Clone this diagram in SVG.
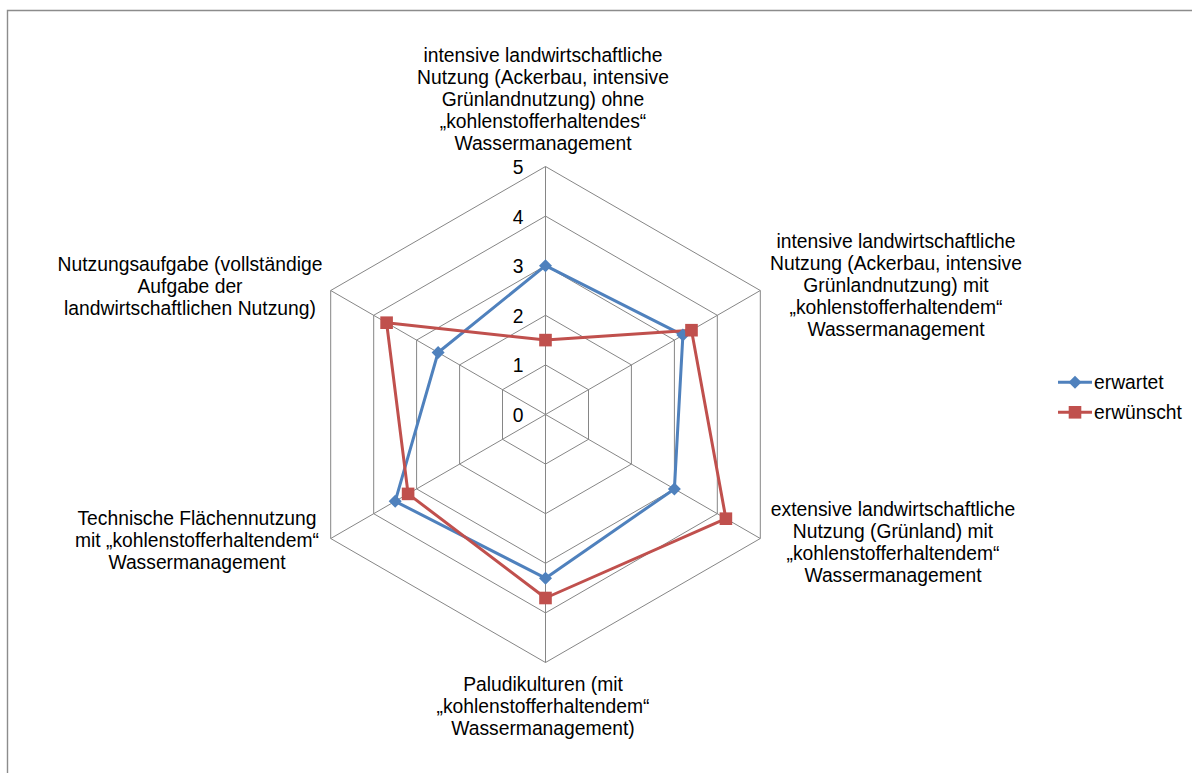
<svg xmlns="http://www.w3.org/2000/svg" xmlns:xlink="http://www.w3.org/1999/xlink" width="1192" height="773" viewBox="0 0 1192 773">
<style>
  text { font-family: "Liberation Sans", Arial, sans-serif; font-size: 19.3px; fill: #000; }
  .lbl { text-anchor: middle; }
  .tick { text-anchor: middle; }
  .grid { fill: none; stroke: #868686; stroke-width: 1; }
  .exp { fill: none; stroke: #4F81BD; stroke-width: 3; stroke-linejoin: round; }
  .des { fill: none; stroke: #C0504D; stroke-width: 3; stroke-linejoin: round; }
  .frame { fill: none; stroke: #8c8c8c; stroke-width: 1.4; }
</style>
<defs>
  <path id="dia" d="M0,-6.5 L6.5,0 L0,6.5 L-6.5,0 Z" fill="#4F81BD"/>
  <rect id="sq" x="-6.3" y="-6.3" width="12.6" height="12.6" fill="#C0504D"/>
</defs>
<rect x="0" y="0" width="1192" height="773" fill="#fff"/>
<polyline class="frame" points="7.5,773 7.5,10.5 1192,10.5"/>

<g id="grid">
  <polygon class="grid" points="545.5,166.5 760.3,290.5 760.3,538.5 545.5,662.5 330.7,538.5 330.7,290.5"/>
  <polygon class="grid" points="545.5,216.1 717.3,315.3 717.3,513.7 545.5,612.9 373.7,513.7 373.7,315.3"/>
  <polygon class="grid" points="545.5,265.7 674.4,340.1 674.4,488.9 545.5,563.3 416.6,488.9 416.6,340.1"/>
  <polygon class="grid" points="545.5,315.3 631.4,364.9 631.4,464.1 545.5,513.7 459.6,464.1 459.6,364.9"/>
  <polygon class="grid" points="545.5,364.9 588.5,389.7 588.5,439.3 545.5,464.1 502.5,439.3 502.5,389.7"/>
  <path class="grid" d="M545.5,414.5 L545.5,166.5 M545.5,414.5 L760.3,290.5 M545.5,414.5 L760.3,538.5 M545.5,414.5 L545.5,662.5 M545.5,414.5 L330.7,538.5 M545.5,414.5 L330.7,290.5"/>
</g>

<g id="ticks">
  <text class="tick" x="518" y="174">5</text>
  <text class="tick" x="518" y="223.5">4</text>
  <text class="tick" x="518" y="273">3</text>
  <text class="tick" x="518" y="322.5">2</text>
  <text class="tick" x="518" y="372">1</text>
  <text class="tick" x="518" y="421.5">0</text>
</g>

<g id="connectors">
  <polygon class="exp" points="545.5,265.7 682.9,335.1 674.4,488.9 545.5,578.2 395.2,501.3 438.1,352.5"/>
  <polygon class="des" points="545.5,340.1 691.5,330.2 725.9,518.7 545.5,598 408.1,493.9 386.6,322.7"/>
</g>

<g id="series-erwartet">
  <use xlink:href="#dia" x="545.5" y="265.7"/>
  <use xlink:href="#dia" x="682.9" y="335.1"/>
  <use xlink:href="#dia" x="674.4" y="488.9"/>
  <use xlink:href="#dia" x="545.5" y="578.2"/>
  <use xlink:href="#dia" x="395.2" y="501.3"/>
  <use xlink:href="#dia" x="438.1" y="352.5"/>
</g>
<g id="series-erwuenscht">
  <use xlink:href="#sq" x="545.5" y="340.1"/>
  <use xlink:href="#sq" x="691.5" y="330.2"/>
  <use xlink:href="#sq" x="725.9" y="518.7"/>
  <use xlink:href="#sq" x="545.5" y="598"/>
  <use xlink:href="#sq" x="408.1" y="493.9"/>
  <use xlink:href="#sq" x="386.6" y="322.7"/>
</g>

<g id="axis-top">
  <text class="lbl" x="543" y="62">intensive landwirtschaftliche</text>
  <text class="lbl" x="543" y="84">Nutzung (Ackerbau, intensive</text>
  <text class="lbl" x="543" y="106">Grünlandnutzung) ohne</text>
  <text class="lbl" x="543" y="128">„kohlenstofferhaltendes“</text>
  <text class="lbl" x="543" y="150">Wassermanagement</text>
</g>
<g id="axis-upper-right">
  <text class="lbl" x="896" y="248">intensive landwirtschaftliche</text>
  <text class="lbl" x="896" y="270">Nutzung (Ackerbau, intensive</text>
  <text class="lbl" x="896" y="292">Grünlandnutzung) mit</text>
  <text class="lbl" x="896" y="314">„kohlenstofferhaltendem“</text>
  <text class="lbl" x="896" y="336">Wassermanagement</text>
</g>
<g id="axis-lower-right">
  <text class="lbl" x="893" y="516">extensive landwirtschaftliche</text>
  <text class="lbl" x="893" y="538">Nutzung (Grünland) mit</text>
  <text class="lbl" x="893" y="560">„kohlenstofferhaltendem“</text>
  <text class="lbl" x="893" y="582">Wassermanagement</text>
</g>
<g id="axis-bottom">
  <text class="lbl" x="543" y="691">Paludikulturen (mit</text>
  <text class="lbl" x="543" y="713">„kohlenstofferhaltendem“</text>
  <text class="lbl" x="543" y="735">Wassermanagement)</text>
</g>
<g id="axis-lower-left">
  <text class="lbl" x="197" y="525">Technische Flächennutzung</text>
  <text class="lbl" x="197" y="547">mit „kohlenstofferhaltendem“</text>
  <text class="lbl" x="197" y="569">Wassermanagement</text>
</g>
<g id="axis-upper-left">
  <text class="lbl" x="190" y="271">Nutzungsaufgabe (vollständige</text>
  <text class="lbl" x="190" y="293">Aufgabe der</text>
  <text class="lbl" x="190" y="315">landwirtschaftlichen Nutzung)</text>
</g>

<g id="legend">
  <line x1="1058" y1="382.3" x2="1092" y2="382.3" stroke="#4F81BD" stroke-width="3"/>
  <use xlink:href="#dia" x="1075" y="382.3"/>
  <text x="1094" y="388.5">erwartet</text>
  <line x1="1058" y1="412.3" x2="1092" y2="412.3" stroke="#C0504D" stroke-width="3"/>
  <use xlink:href="#sq" x="1075" y="412.3"/>
  <text x="1094" y="418.5">erwünscht</text>
</g>
</svg>
